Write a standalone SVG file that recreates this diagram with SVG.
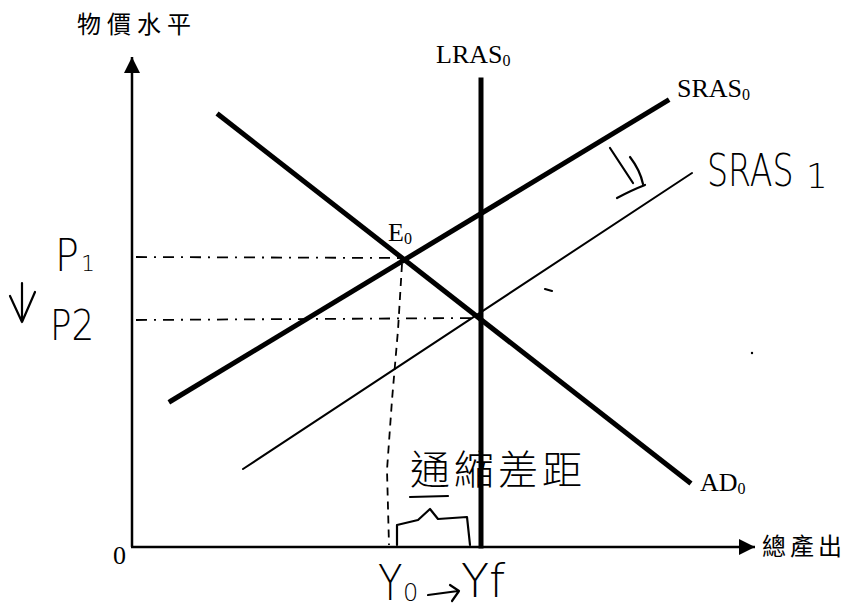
<svg xmlns="http://www.w3.org/2000/svg" width="846" height="611" viewBox="0 0 846 611">
<style>
.axis{stroke:#000;stroke-width:2.5;fill:none}
.thick{stroke:#000;stroke-width:5;fill:none;stroke-linecap:square}
.thin{stroke:#000;stroke-width:2;fill:none;stroke-linecap:round}
.dash{stroke:#000;stroke-width:1.8;fill:none;stroke-dasharray:11 7 2 7}
.vdash{stroke:#000;stroke-width:1.8;fill:none;stroke-dasharray:8 6}
.hand{stroke:#000;stroke-width:2.2;fill:none;stroke-linecap:round;stroke-linejoin:round}
.lbl{font-family:"Liberation Serif","Times New Roman",serif;font-size:26px;fill:#000}
.sub{font-size:16px}
.cjk{font-family:"Noto Sans CJK TC","Noto Sans CJK SC",sans-serif;font-size:24px;fill:#000}
.hw{font-family:"DejaVu Sans","Liberation Sans",sans-serif;font-weight:200;fill:#000}
.hwc{font-family:"Noto Sans CJK TC","Noto Sans CJK SC",sans-serif;font-weight:300;fill:#000}
</style>
<defs>
<marker id="ah" viewBox="0 0 10 10" refX="10" refY="5" markerWidth="16" markerHeight="16" markerUnits="userSpaceOnUse" orient="auto"><path d="M0,0 L10,5 L0,10 z" fill="#000"/></marker>
</defs>
<rect width="846" height="611" fill="#fff"/>
<g id="axes">
<line class="axis" x1="132" y1="547" x2="132" y2="57" marker-end="url(#ah)"/>
<line class="axis" x1="131" y1="547" x2="755" y2="547" marker-end="url(#ah)"/>
<text class="cjk" x="77" y="33" letter-spacing="6">物價水平</text>
<text class="cjk" x="762" y="555" letter-spacing="4">總產出</text>
<text class="lbl" x="113" y="564" font-size="20">0</text>
</g>
<g id="connectors">
<line class="dash" x1="136" y1="257" x2="400" y2="258"/>
<line class="dash" x1="136" y1="320" x2="478" y2="318"/>
<path class="vdash" d="M402,264 L398,330 L392,400 L387,470 L389,545"/>
</g>
<g id="LRAS0">
<line class="thick" x1="481" y1="80" x2="481" y2="546"/>
<text class="lbl" x="436" y="63">LRAS<tspan class="sub" dy="3">0</tspan></text>
</g>
<g id="SRAS0">
<line class="thick" x1="171" y1="401" x2="667" y2="101"/>
<text class="lbl" x="677" y="97">SRAS<tspan class="sub" dy="3">0</tspan></text>
</g>
<g id="AD0">
<line class="thick" x1="219" y1="115" x2="689" y2="482"/>
<text class="lbl" x="700" y="491">AD<tspan class="sub" dy="3">0</tspan></text>
</g>
<g id="SRAS1">
<line class="thin" x1="243" y1="469" x2="692" y2="173"/>
<text class="hw" transform="translate(707,186) scale(0.755,1)" font-size="44">SRAS</text>
<text class="hw" x="806" y="188" font-size="34">1</text>
</g>
<g id="E0">
<text class="lbl" x="388" y="241">E<tspan class="sub" dy="3">0</tspan></text>
</g>
<g id="shift-arrow">
<path class="hand" d="M610,148 L633,183"/>
<path class="hand" d="M630,157 Q640,170 643,184"/>
<path class="hand" d="M617,198 Q632,190 645,185"/>
</g>
<g id="P1">
<text class="hw" transform="translate(55,271) scale(0.9,1)" font-size="44">P</text>
<text class="hw" x="81" y="271" font-size="22">1</text>
</g>
<g id="P2">
<path class="hand" d="M22,283 L22,322 M10,296 L22,322 L35,292"/>
<text class="hw" transform="translate(50,340) scale(0.85,1)" font-size="42">P2</text>
</g>
<g id="gap">
<text class="hwc" x="410" y="484" font-size="40" letter-spacing="4">通縮差距</text>
<path class="hand" d="M410,497 L448,496"/>
<path class="hand" d="M397,545 L397,525 L418,520 L430,509 L438,519 L467,517 L470,545"/>
</g>
<g id="Y-labels">
<text class="hw" transform="translate(378,600) scale(0.8,1)" font-size="50">Y</text>
<text class="hw" x="403" y="601" font-size="24">0</text>
<path class="hand" d="M428,595 L458,591 M450,585 L459,591 L452,601"/>
<text class="hw" x="461" y="597" font-size="46">Yf</text>
</g>
<g id="marks">
<path class="hand" d="M545,289 L552,291"/>
<circle cx="752" cy="353" r="1.2" fill="#000"/>
</g>
</svg>
